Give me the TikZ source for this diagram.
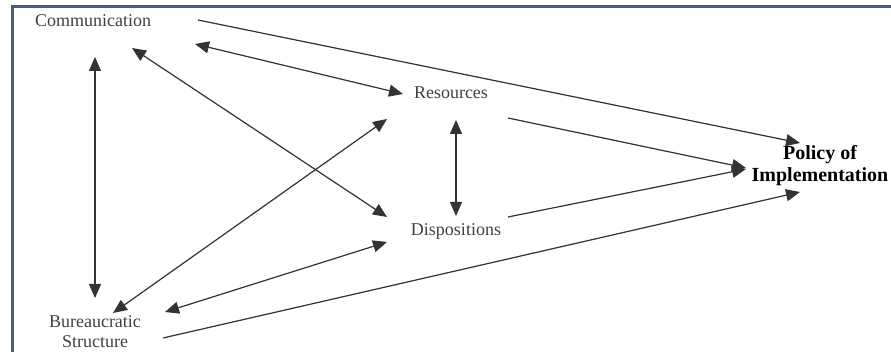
\documentclass[tikz,border=0pt]{standalone}
\usepackage{fontspec}
\setmainfont{Liberation Serif}
\usetikzlibrary{arrows.meta}
\definecolor{frameblue}{RGB}{62,96,140}

\begin{document}
\begin{tikzpicture}[x=0.5pt,y=-0.5pt]
% one unit = one pixel of the 891x352 layout, y downwards
\tikzstyle{factor}=[font=\fontsize{9}{10}\selectfont, text=black!75, inner sep=0pt, align=center]
\tikzstyle{goal}=[font=\bfseries\fontsize{10}{11}\selectfont, inner sep=0pt, align=center]
\tikzstyle{link}=[-{Triangle[length=7pt,width=6pt]}, line width=0.6pt, draw=black!80, fill=black!80]
\tikzstyle{both}=[{Triangle[length=7pt,width=6pt]}-{Triangle[length=7pt,width=6pt]}, line width=0.6pt, draw=black!80, fill=black!80]
\useasboundingbox (0,0) rectangle (891,352);
\draw[frameblue, line width=1.5pt] (12,352) -- (12,7) -- (891,7);
\node[factor](comm) at (93,21) {Communication};
\node[factor](res) at (451,93) {Resources};
\node[factor](disp) at (456,231) {Dispositions};
\node[factor](bur) at (95,332) {Bureaucratic\\Structure};
\node[goal](pol) at (820,166) {Policy of\\Implementation};
\draw[link] ([shift={(105,-1)}]comm.center) -- ([shift={(-20,-23)}]pol.center);
\draw[both] ([shift={(102,23)}]comm.center) -- ([shift={(-48,1)}]res.center);
\draw[both] ([shift={(39,27)}]comm.center) -- ([shift={(-69,-14)}]disp.center);
\draw[both] ([shift={(2,36)}]comm.center) -- ([shift={(0,-34)}]bur.center);
\draw[both] ([shift={(-64,26)}]res.center) -- ([shift={(18,-19)}]bur.center);
\draw[both] ([shift={(-69,11)}]disp.center) -- ([shift={(70,-20)}]bur.center);
\draw[both] ([shift={(5,27)}]res.center) -- ([shift={(0,-15)}]disp.center);
\draw[link] ([shift={(68,6)}]bur.center) -- ([shift={(-20,26)}]pol.center);
\draw[link] ([shift={(57,25)}]res.center) -- ([shift={(-74,2)}]pol.center);
\draw[link] ([shift={(52,-14)}]disp.center) -- ([shift={(-74,3)}]pol.center);
\end{tikzpicture}
\end{document}
